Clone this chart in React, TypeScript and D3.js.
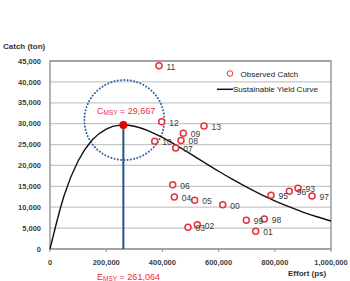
import React from 'react';
import * as d3 from 'd3';

// observed catch by year (effort in ps, catch in ton)
const years = ['11', '12', '13', '09', '08', '10', '07', '06', '04', '05', '00', '03', '02', '99', '98', '01', '95', '96', '93', '97'];
const effort = [388000, 397500, 548000, 474400, 466200, 372600, 447300, 436600, 442400, 514900, 614600, 491100, 524200, 698600, 762600, 732000, 786500, 851600, 882600, 932400];
const catchTon = [43850, 30450, 29420, 27680, 26000, 25770, 24160, 15380, 12440, 11650, 10600, 5190, 5810, 6870, 7180, 4230, 12850, 13800, 14520, 12680];

// sustainable yield curve
const curveEffort = [0, 50000, 100000, 150000, 200000, 250000, 261064, 300000, 350000, 400000, 450000, 500000, 550000, 600000, 650000, 700000, 750000, 800000, 850000, 900000, 950000, 1000000];
const curveCatch = [0, 12754, 21060, 26084, 28717, 29639, 29667, 29368, 28292, 26697, 24799, 22752, 20664, 18613, 16649, 14805, 13098, 11536, 10121, 8848, 7712, 6702];

const eMsy = 261064;
const cMsy = 29667;

const yTicks = [0, 5000, 10000, 15000, 20000, 25000, 30000, 35000, 40000, 45000];
const xTicks = [0, 200000, 400000, 600000, 800000, 1000000];

const W = 350;
const H = 281;
const red = '#e8323a';
const labelFont = '"Liberation Sans", Arial, sans-serif';
const narrowFont = '"Liberation Sans Narrow", "Liberation Sans", Arial, sans-serif';

export default function App() {
  const x = d3.scaleLinear().domain([0, 1000000]).range([50, 331]);
  const y = d3.scaleLinear().domain([0, 45000]).range([249, 61]);
  const fmt = d3.format(',');

  const line = d3.line<number>()
    .x((d, i) => x(curveEffort[i]))
    .y(d => y(d))
    .curve(d3.curveMonotoneX);

  const mx = x(eMsy);
  const my = y(cMsy);

  return (
    <svg width={W} height={H} style={{ position: 'absolute', left: 0, top: 0, background: '#fff' }}>
      {/* grid */}
      {yTicks.map(t => (
        <line key={t} x1={x(0)} x2={x(1000000)} y1={y(t)} y2={y(t)} stroke="#c6c6c6" strokeWidth={1.3} />
      ))}
      <rect x={x(0)} y={y(45000)} width={x(1000000) - x(0)} height={y(0) - y(45000)} fill="none" stroke="#8a8a8a" strokeWidth={1.3} />
      {xTicks.map(t => (
        <line key={t} x1={x(t)} x2={x(t)} y1={y(0)} y2={y(0) + 3} stroke="#8a8a8a" strokeWidth={1} />
      ))}

      {/* axis labels */}
      {yTicks.map(t => (
        <text key={t} x={41} y={y(t) + 2.7} textAnchor="end" fontSize={7.5} fontWeight="bold" fontFamily={labelFont} fill="#404040">
          {fmt(t)}
        </text>
      ))}
      {xTicks.map(t => (
        <text key={t} x={x(t)} y={264.5} textAnchor="middle" fontSize={7.5} fontWeight="bold" fontFamily={labelFont} fill="#404040">
          {fmt(t)}
        </text>
      ))}
      <text x={3} y={49} fontSize={8} fontWeight="bold" fontFamily={narrowFont} fill="#333">Catch (ton)</text>
      <text x={288} y={276} fontSize={8} fontWeight="bold" fontFamily={narrowFont} fill="#333">Effort (ps)</text>

      {/* MSY annotation */}
      <circle cx={mx + 1} cy={my - 5} r={40} fill="none" stroke="#2e64a8" strokeWidth={2} strokeDasharray="0.1 3.2" strokeLinecap="round" />
      <line x1={mx} x2={mx} y1={my} y2={y(0)} stroke="#24538a" strokeWidth={2} />

      {/* yield curve */}
      <path d={line(curveCatch) || ''} fill="none" stroke="#111" strokeWidth={1.4} />
      <circle cx={mx} cy={my} r={4} fill="#e60000" />

      <text x={97} y={113.5} fontSize={9} fontFamily={labelFont} fill={red}>
        C<tspan fontSize={6.5} dy={1}>MSY</tspan><tspan dy={-1}> = 29,667</tspan>
      </text>
      <text x={97} y={280} fontSize={9} fontFamily={labelFont} fill={red}>
        E<tspan fontSize={6.5} dy={1}>MSY</tspan><tspan dy={-1}> = 261,064</tspan>
      </text>

      {/* observed points */}
      {years.map((yr, i) => (
        <circle key={yr} cx={x(effort[i])} cy={y(catchTon[i])} r={3} fill="#fff" stroke={red} strokeWidth={1.5} />
      ))}
      {years.map((yr, i) => (
        <text key={yr} x={x(effort[i]) + 7.5} y={y(catchTon[i]) + 4} fontSize={8.5} fontFamily={labelFont} fill="#3a3a3a">{yr}</text>
      ))}

      {/* legend */}
      <circle cx={230} cy={73.5} r={2.8} fill="#fff" stroke={red} strokeWidth={1} />
      <text x={240.5} y={76.5} fontSize={8} fontFamily={narrowFont} fill="#222">Observed Catch</text>
      <line x1={217} x2={233} y1={89.3} y2={89.3} stroke="#111" strokeWidth={1.5} />
      <text x={233} y={92.3} fontSize={8} fontFamily={narrowFont} fill="#222">Sustainable Yield Curve</text>
    </svg>
  );
}
